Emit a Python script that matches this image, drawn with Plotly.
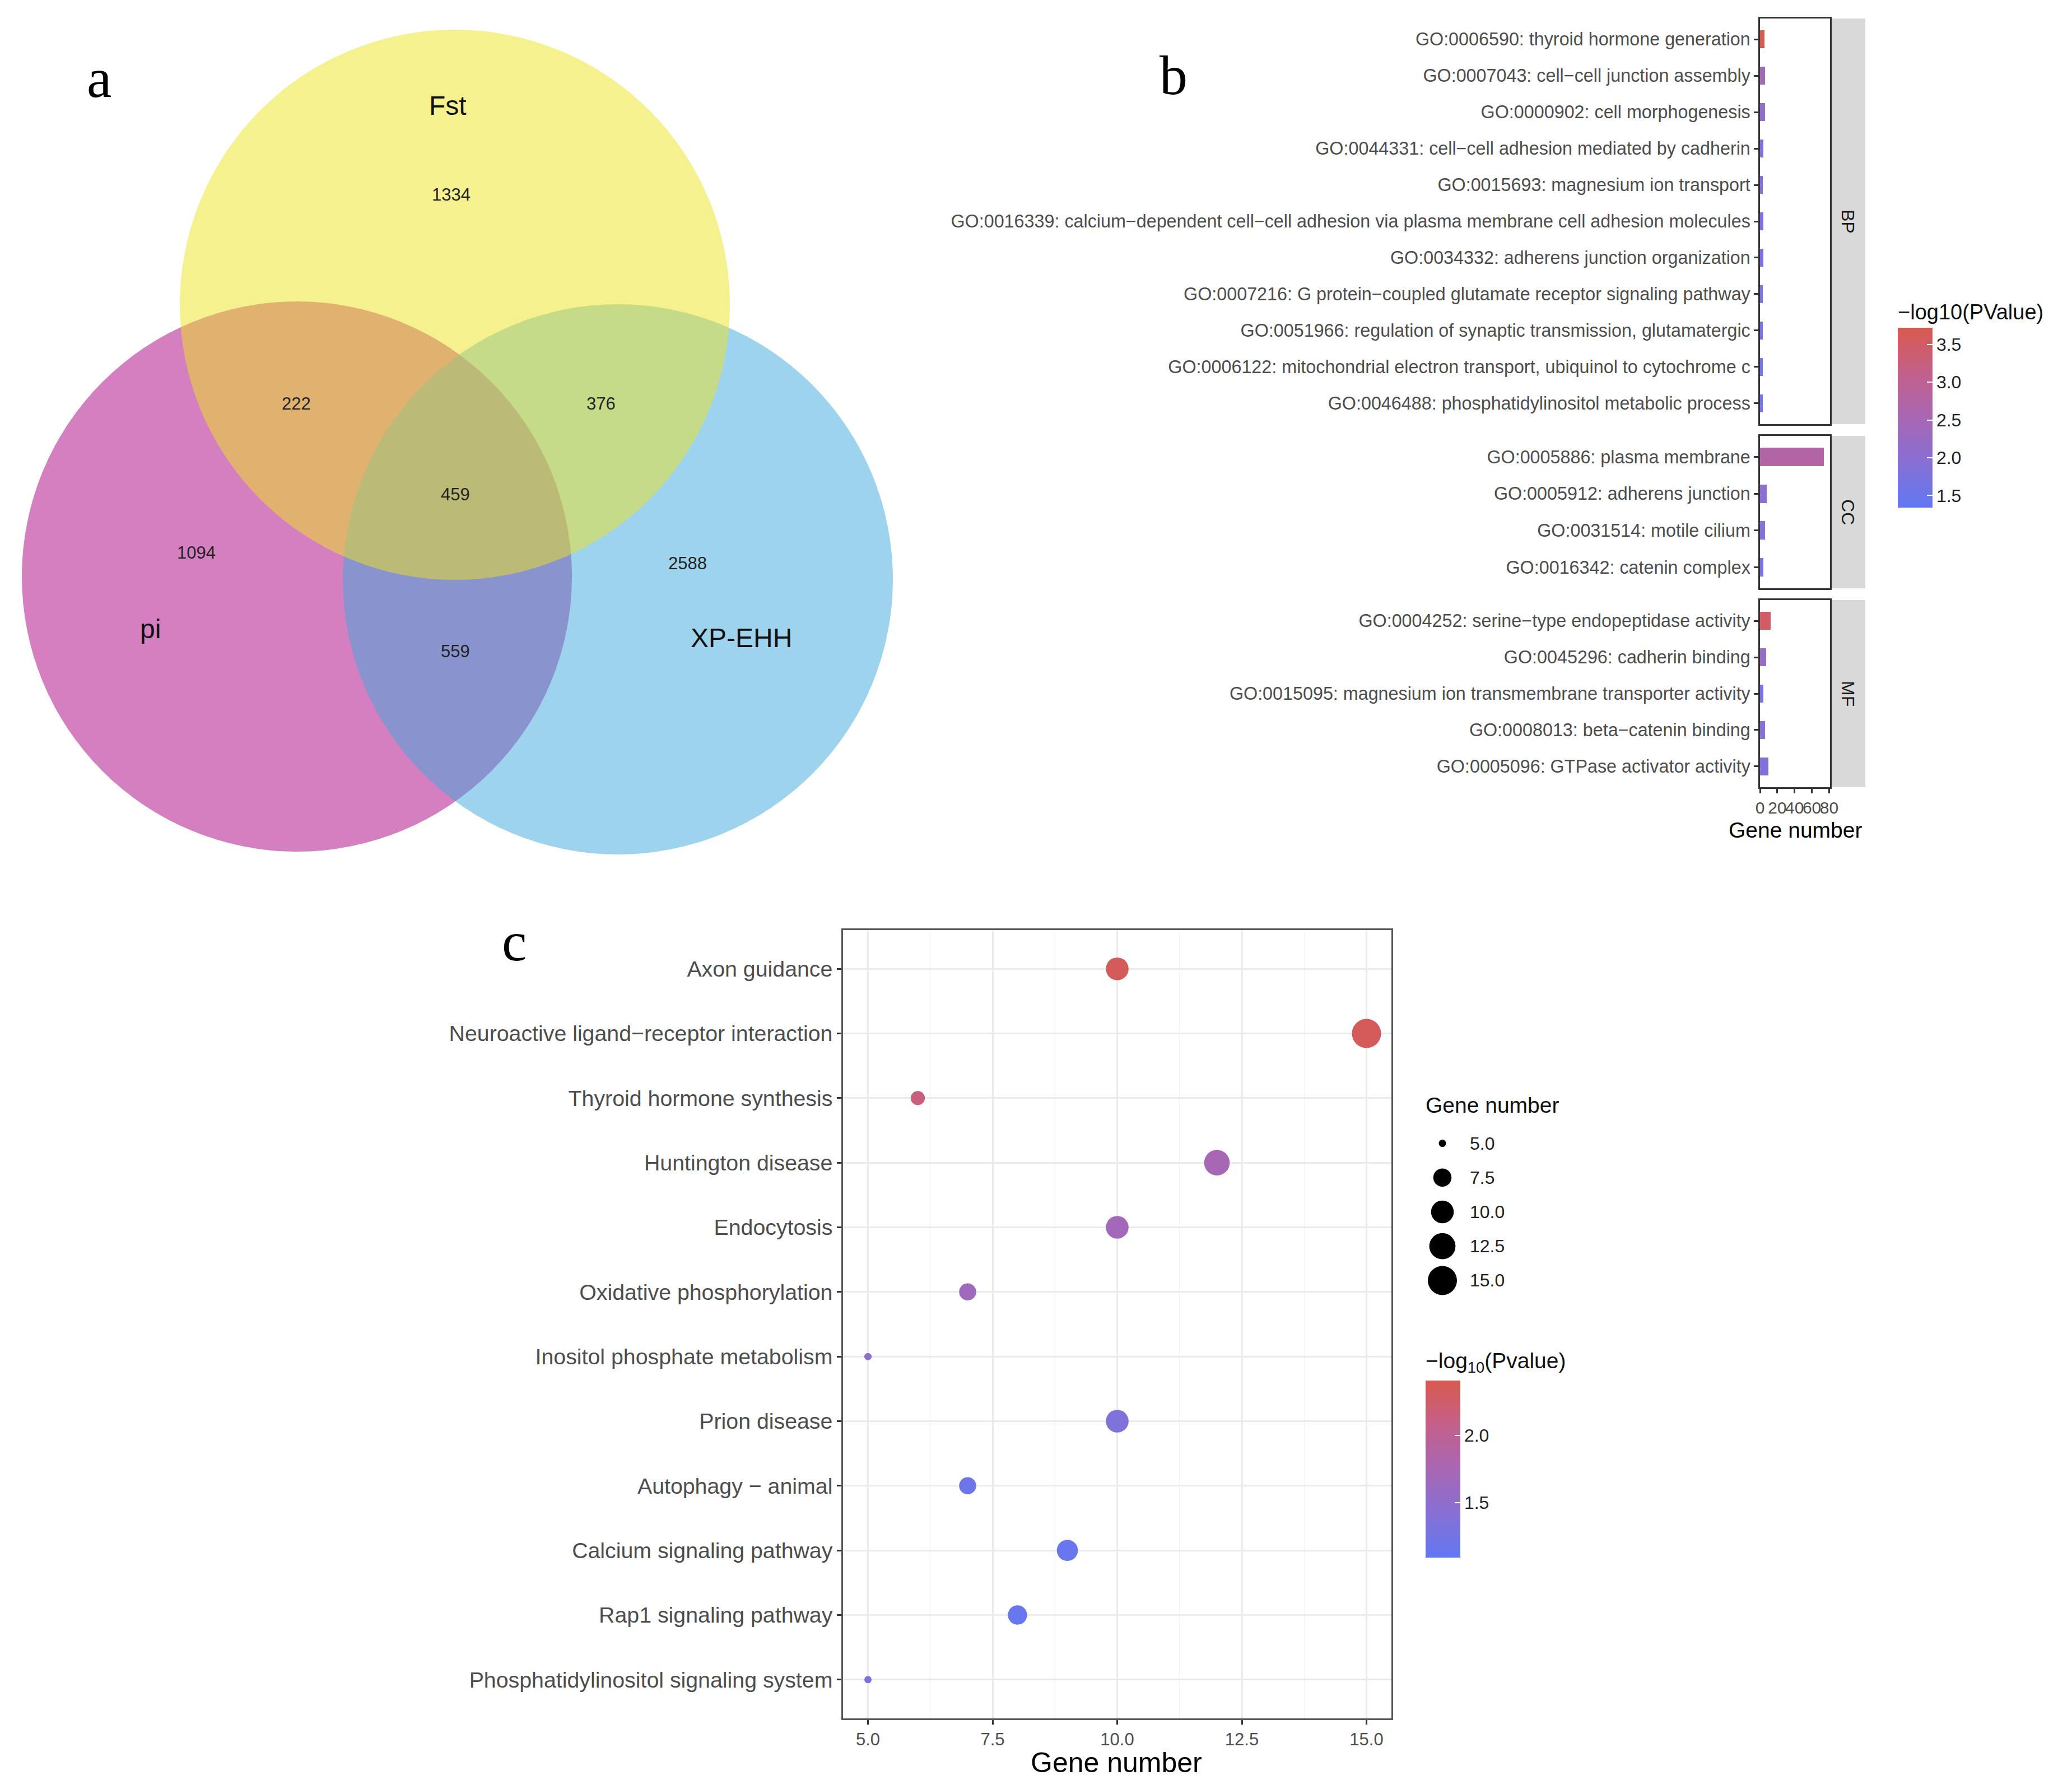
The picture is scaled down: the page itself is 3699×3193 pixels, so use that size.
import numpy as np
import plotly.graph_objects as go

W, H = 3699, 3193
BODY = 8                      # default browser body margin (px)
FW, FH = W - 2 * BODY, H - 2 * BODY


def PX(x):
    return (x - BODY) / FW


def PY(y):
    return 1 - (y - BODY) / FH


# ---------------- DATA ----------------
# Panel a: Venn counts
venn_sets = ["Fst", "pi", "XP-EHH"]
venn_regions = ["Fst only", "Fst&pi", "Fst&XP-EHH", "Fst&pi&XP-EHH", "pi only", "XP-EHH only", "pi&XP-EHH"]
venn_counts = [1334, 222, 376, 459, 1094, 2588, 559]

# Panel b: GO enrichment (facets BP / CC / MF)
go_bp_terms = [
    "GO:0006590: thyroid hormone generation",
    "GO:0007043: cell−cell junction assembly",
    "GO:0000902: cell morphogenesis",
    "GO:0044331: cell−cell adhesion mediated by cadherin",
    "GO:0015693: magnesium ion transport",
    "GO:0016339: calcium−dependent cell−cell adhesion via plasma membrane cell adhesion molecules",
    "GO:0034332: adherens junction organization",
    "GO:0007216: G protein−coupled glutamate receptor signaling pathway",
    "GO:0051966: regulation of synaptic transmission, glutamatergic",
    "GO:0006122: mitochondrial electron transport, ubiquinol to cytochrome c",
    "GO:0046488: phosphatidylinositol metabolic process",
]
go_bp_counts = [5, 6, 6, 4, 3, 4, 4, 3, 3, 3, 3]
go_bp_logp = [3.7, 2.4, 2.1, 1.9, 1.8, 1.75, 1.75, 1.7, 1.65, 1.6, 1.6]

go_cc_terms = [
    "GO:0005886: plasma membrane",
    "GO:0005912: adherens junction",
    "GO:0031514: motile cilium",
    "GO:0016342: catenin complex",
]
go_cc_counts = [74, 8, 6, 4]
go_cc_logp = [2.75, 2.0, 1.8, 1.7]

go_mf_terms = [
    "GO:0004252: serine−type endopeptidase activity",
    "GO:0045296: cadherin binding",
    "GO:0015095: magnesium ion transmembrane transporter activity",
    "GO:0008013: beta−catenin binding",
    "GO:0005096: GTPase activator activity",
]
go_mf_counts = [12, 7, 4, 6, 10]
go_mf_logp = [3.5, 2.2, 1.7, 1.9, 1.85]

go_facets = ["BP", "CC", "MF"]
go_x_ticks = [0, 20, 40, 60, 80]
go_cbar_ticks = [1.5, 2.0, 2.5, 3.0, 3.5]

# Panel c: KEGG dot plot
kegg_terms = [
    "Axon guidance",
    "Neuroactive ligand−receptor interaction",
    "Thyroid hormone synthesis",
    "Huntington disease",
    "Endocytosis",
    "Oxidative phosphorylation",
    "Inositol phosphate metabolism",
    "Prion disease",
    "Autophagy − animal",
    "Calcium signaling pathway",
    "Rap1 signaling pathway",
    "Phosphatidylinositol signaling system",
]
kegg_counts = [10, 15, 6, 12, 10, 7, 5, 10, 7, 9, 8, 5]
kegg_logp = [2.35, 2.35, 2.15, 1.75, 1.7, 1.65, 1.45, 1.35, 1.2, 1.15, 1.15, 1.3]
kegg_x_ticks = [5.0, 7.5, 10.0, 12.5, 15.0]
size_legend_values = [5.0, 7.5, 10.0, 12.5, 15.0]
kegg_cbar_ticks = [1.5, 2.0]

# ---------------- STYLE / LAYOUT ----------------
FONT = "Liberation Sans"
SERIF = "Liberation Serif"
GRAY30 = "#4D4D4D"
DARK = "#333333"
colorscale = [
    [0.0, "#6178F2"],
    [0.25, "#8770D4"],
    [0.5, "#A867B4"],
    [0.75, "#C4608A"],
    [1.0, "#D85A4E"],
]

# Venn geometry (pixels)
venn_circles = {
    "pi": dict(cx=530, cy=1029, r=491, color="#A9007F"),
    "XP-EHH": dict(cx=1103, cy=1034, r=491, color="#3DA7DD"),
    "Fst": dict(cx=812, cy=544, r=491, color="#EDE31F"),
}
venn_set_label_pos = {"Fst": (799, 189), "pi": (268, 1122), "XP-EHH": (1323, 1138)}
venn_region_pos = {
    "Fst only": (805, 347), "Fst&pi": (529, 720), "Fst&XP-EHH": (1073, 720),
    "Fst&pi&XP-EHH": (813, 882), "pi only": (350, 986), "XP-EHH only": (1227, 1005),
    "pi&XP-EHH": (813, 1163),
}

# panel b geometry
b_x0, b_x1 = 3142, 3267
b_panels = [(33, 757), (778, 1050), (1071, 1405)]
b_strip = (3268, 3330)


def gg_size(v):
    # ggplot2 area scale (range 1..6) mapped to pixel diameter
    v = np.asarray(v, dtype=float)
    g = 1 + 5 * np.sqrt((v - 5.0) / 10.0)
    return 5.2 + 7.8 * g


def note(text, x, y, size, color="#111111", family=FONT, xanchor="center", yanchor="middle", **kw):
    d = dict(text=text, x=PX(x), y=PY(y), xref="paper", yref="paper", showarrow=False,
             xanchor=xanchor, yanchor=yanchor, font=dict(family=family, size=size, color=color))
    d.update(kw)
    return d


fig = go.Figure()
shapes = []
annotations = []

# ---------- Panel a ----------
for name in ["pi", "XP-EHH", "Fst"]:
    c = venn_circles[name]
    shapes.append(dict(
        type="circle", xref="paper", yref="paper",
        x0=PX(c["cx"] - c["r"]), x1=PX(c["cx"] + c["r"]),
        y0=PY(c["cy"] + c["r"]), y1=PY(c["cy"] - c["r"]),
        fillcolor=c["color"], opacity=0.5, line=dict(width=0), layer="above",
    ))
for name in venn_sets:
    x, y = venn_set_label_pos[name]
    annotations.append(note(name, x, y, 48))
for reg, cnt in zip(venn_regions, venn_counts):
    x, y = venn_region_pos[reg]
    annotations.append(note(str(cnt), x, y, 31, color="#222222"))

# panel letters
for letter, (x, y) in zip(["a", "b", "c"], [(177, 139), (2095, 134), (918, 1680)]):
    annotations.append(note(letter, x, y, 100, color="#000000", family=SERIF))

# ---------- Panel b ----------
b_terms = [go_bp_terms, go_cc_terms, go_mf_terms]
b_counts = [go_bp_counts, go_cc_counts, go_mf_counts]
b_logp = [go_bp_logp, go_cc_logp, go_mf_logp]
axis_ids = ["", "2", "3"]
for i in range(3):
    fig.add_trace(go.Bar(
        x=b_counts[i], y=b_terms[i], orientation="h", width=0.5,
        marker=dict(color=b_logp[i], coloraxis="coloraxis", line=dict(width=0)),
        xaxis="x" + axis_ids[i], yaxis="y" + axis_ids[i], showlegend=False,
    ))
    top, bot = b_panels[i]
    n = len(b_terms[i])
    xa = dict(
        domain=[PX(b_x0), PX(b_x1)], anchor="y" + axis_ids[i], range=[0, 81],
        showgrid=False, zeroline=False, showline=True, mirror=True, linecolor=DARK, linewidth=2.5,
    )
    if i == 2:
        xa.update(tickmode="array", tickvals=go_x_ticks, ticktext=[str(v) for v in go_x_ticks],
                  tickangle=0, ticks="outside", ticklen=8, tickwidth=2.5, tickcolor=DARK,
                  tickfont=dict(family=FONT, size=30, color=GRAY30))
    else:
        xa.update(showticklabels=False, ticks="")
    fig.layout["xaxis" + axis_ids[i]] = xa
    fig.layout["yaxis" + axis_ids[i]] = dict(
        domain=[PY(bot), PY(top)], anchor="x" + axis_ids[i], type="category",
        categoryorder="array", categoryarray=b_terms[i],
        range=[n - 1 + 0.57, -0.57], showgrid=False, zeroline=False,
        showline=True, mirror=True, linecolor=DARK, linewidth=2.5,
        ticks="outside", ticklen=8, tickwidth=2.5, tickcolor=DARK,
        tickfont=dict(family=FONT, size=32.3, color=GRAY30),
    )
    shapes.append(dict(type="rect", xref="paper", yref="paper",
                       x0=PX(b_strip[0]), x1=PX(b_strip[1]), y0=PY(bot), y1=PY(top),
                       fillcolor="#D9D9D9", line=dict(width=0), layer="below"))
    annotations.append(note(go_facets[i], sum(b_strip) / 2, (top + bot) / 2, 32,
                            color="#1A1A1A", textangle=90))

annotations.append(note("Gene number", (b_x0 + b_x1) / 2, 1481, 39, color="#000000"))

# ---------- Panel c ----------
fig.add_trace(go.Scatter(
    x=kegg_counts, y=kegg_terms, mode="markers",
    marker=dict(size=gg_size(kegg_counts), color=kegg_logp, coloraxis="coloraxis2",
                line=dict(width=0), opacity=1),
    xaxis="x4", yaxis="y4", showlegend=False,
))
fig.layout["xaxis4"] = dict(
    domain=[PX(1505), PX(2484)], anchor="y4", range=[4.5, 15.5],
    tickmode="array", tickvals=kegg_x_ticks, ticktext=[f"{v:.1f}" for v in kegg_x_ticks],
    showgrid=True, gridcolor="#EBEBEB", gridwidth=2.5,
    minor=dict(tickmode="array", tickvals=[6.25, 8.75, 11.25, 13.75], showgrid=True,
               gridcolor="#F3F3F3", gridwidth=1.3, ticks=""),
    zeroline=False, showline=True, mirror=True, linecolor="#555555", linewidth=2.5,
    ticks="outside", ticklen=8, tickwidth=2.5, tickcolor=DARK,
    tickfont=dict(family=FONT, size=31, color=GRAY30),
)
fig.layout["yaxis4"] = dict(
    domain=[PY(3067), PY(1660)], anchor="x4", type="category",
    categoryorder="array", categoryarray=kegg_terms,
    range=[len(kegg_terms) - 1 + 0.6, -0.6],
    showgrid=True, gridcolor="#EBEBEB", gridwidth=2.5,
    zeroline=False, showline=True, mirror=True, linecolor="#555555", linewidth=2.5,
    ticks="outside", ticklen=8, tickwidth=2.5, tickcolor=DARK,
    tickfont=dict(family=FONT, size=39.3, color=GRAY30),
)
annotations.append(note("Gene number", 1993, 3146, 50, color="#000000"))

# size legend
fig.add_trace(go.Scatter(
    x=[0.5] * len(size_legend_values), y=list(range(len(size_legend_values))), mode="markers",
    marker=dict(size=gg_size(size_legend_values), color="#000000", line=dict(width=0), opacity=1),
    xaxis="x5", yaxis="y5", showlegend=False, hoverinfo="skip",
))
fig.layout["xaxis5"] = dict(domain=[PX(2545), PX(2605)], anchor="y5", range=[0, 1], visible=False)
fig.layout["yaxis5"] = dict(domain=[PY(2316), PY(2010)], anchor="x5", range=[4.5, -0.5], visible=False)
for i, v in enumerate(size_legend_values):
    annotations.append(dict(text=f"{v:.1f}", x=PX(2622), y=i, xref="paper", yref="y5",
                            xanchor="left", yanchor="middle", showarrow=False,
                            font=dict(family=FONT, size=32, color="#222222")))
annotations.append(note("Gene number", 2543, 1972, 39, xanchor="left"))

fig.update_layout(
    width=FW, height=FH, autosize=False,
    margin=dict(l=0, r=0, t=0, b=0, pad=0, autoexpand=False),
    paper_bgcolor="white", plot_bgcolor="white",
    font=dict(family=FONT),
    bargap=0,
    coloraxis=dict(
        cmin=1.34, cmax=3.72, colorscale=colorscale,
        colorbar=dict(
            x=PX(3388), xanchor="left", y=PY(538), yanchor="top",
            len=368, lenmode="pixels", thickness=62, thicknessmode="pixels",
            outlinewidth=0, xpad=0, ypad=0,
            tickmode="array", tickvals=go_cbar_ticks, ticktext=[f"{v:.1f}" for v in go_cbar_ticks],
            ticks="inside", ticklen=10, tickwidth=2, tickcolor="white",
            tickfont=dict(family=FONT, size=32, color="#222222"),
            title=dict(text="−log10(PValue)", side="top", font=dict(family=FONT, size=38, color="#111111")),
        ),
    ),
    coloraxis2=dict(
        cmin=1.09, cmax=2.41, colorscale=colorscale,
        colorbar=dict(
            x=PX(2545), xanchor="left", y=PY(2410), yanchor="top",
            len=370, lenmode="pixels", thickness=62, thicknessmode="pixels",
            outlinewidth=0, xpad=0, ypad=0,
            tickmode="array", tickvals=kegg_cbar_ticks, ticktext=[f"{v:.1f}" for v in kegg_cbar_ticks],
            ticks="inside", ticklen=10, tickwidth=2, tickcolor="white",
            tickfont=dict(family=FONT, size=32, color="#222222"),
            title=dict(text="−log<sub>10</sub>(Pvalue)", side="top", font=dict(family=FONT, size=39, color="#111111")),
        ),
    ),
    shapes=shapes,
    annotations=annotations,
)

fig.write_html("out.html")
